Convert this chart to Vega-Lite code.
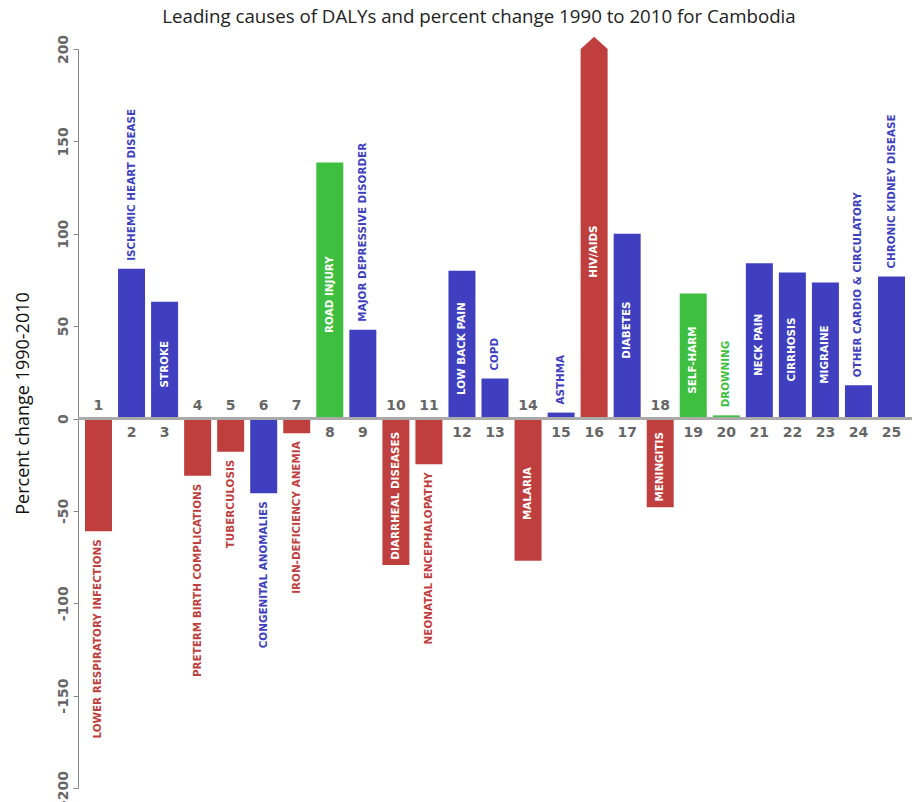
{
  "$schema": "https://vega.github.io/schema/vega-lite/v6.json",
  "width": 834,
  "height": 739,
  "autosize": {"type": "none"},
  "padding": {"left": 78, "top": 49, "right": 4, "bottom": 14},
  "title": {
    "text": "Leading causes of DALYs and percent change 1990 to 2010 for Cambodia",
    "font": "Open Sans",
    "fontSize": 18.7,
    "fontWeight": "normal",
    "color": "#222222",
    "anchor": "middle",
    "frame": "group",
    "dx": -16,
    "offset": 8
  },
  "config": {"view": {"stroke": null}, "font": "DejaVu Sans"},
  "data": {
    "values": [
      {"rank": 1, "cause": "LOWER RESPIRATORY INFECTIONS", "value": -61, "group": "Communicable"},
      {"rank": 2, "cause": "ISCHEMIC HEART DISEASE", "value": 81, "group": "NCD"},
      {"rank": 3, "cause": "STROKE", "value": 63.2, "group": "NCD"},
      {"rank": 4, "cause": "PRETERM BIRTH COMPLICATIONS", "value": -31, "group": "Communicable"},
      {"rank": 5, "cause": "TUBERCULOSIS", "value": -18, "group": "Communicable"},
      {"rank": 6, "cause": "CONGENITAL ANOMALIES", "value": -40.5, "group": "NCD"},
      {"rank": 7, "cause": "IRON-DEFICIENCY ANEMIA", "value": -8, "group": "Communicable"},
      {"rank": 8, "cause": "ROAD INJURY", "value": 138.5, "group": "Injuries"},
      {"rank": 9, "cause": "MAJOR DEPRESSIVE DISORDER", "value": 48.1, "group": "NCD"},
      {"rank": 10, "cause": "DIARRHEAL DISEASES", "value": -79.3, "group": "Communicable"},
      {"rank": 11, "cause": "NEONATAL ENCEPHALOPATHY", "value": -24.7, "group": "Communicable"},
      {"rank": 12, "cause": "LOW BACK PAIN", "value": 80, "group": "NCD"},
      {"rank": 13, "cause": "COPD", "value": 21.6, "group": "NCD"},
      {"rank": 14, "cause": "MALARIA", "value": -77, "group": "Communicable"},
      {"rank": 15, "cause": "ASTHMA", "value": 3.2, "group": "NCD"},
      {"rank": 16, "cause": "HIV/AIDS", "value": 200, "group": "Communicable"},
      {"rank": 17, "cause": "DIABETES", "value": 100, "group": "NCD"},
      {"rank": 18, "cause": "MENINGITIS", "value": -48, "group": "Communicable"},
      {"rank": 19, "cause": "SELF-HARM", "value": 67.6, "group": "Injuries"},
      {"rank": 20, "cause": "DROWNING", "value": 1.7, "group": "Injuries"},
      {"rank": 21, "cause": "NECK PAIN", "value": 84, "group": "NCD"},
      {"rank": 22, "cause": "CIRRHOSIS", "value": 79, "group": "NCD"},
      {"rank": 23, "cause": "MIGRAINE", "value": 73.6, "group": "NCD"},
      {"rank": 24, "cause": "OTHER CARDIO & CIRCULATORY", "value": 18, "group": "NCD"},
      {"rank": 25, "cause": "CHRONIC KIDNEY DISEASE", "value": 76.8, "group": "NCD"}
    ]
  },
  "transform": [
    {"calculate": "abs(datum.value) >= 25 && length(datum.cause) * 7 + 10 < abs(datum.value) * 1.848", "as": "inside"},
    {"calculate": "min(datum.value, 185) / 2", "as": "mid"}
  ],
  "layer": [
    {
      "mark": {"type": "bar"},
      "encoding": {
        "x": {"field": "rank", "type": "ordinal", "scale": {"range": [7, 827], "paddingInner": 0.183, "paddingOuter": 0}, "axis": null},
        "y": {
          "field": "value",
          "type": "quantitative",
          "scale": {"domain": [-200, 200], "nice": false},
          "axis": {
            "title": "Percent change 1990-2010",
            "values": [-200, -150, -100, -50, 0, 50, 100, 150, 200],
            "labelExpr": "toString(datum.value)",
            "grid": false,
            "labelAngle": -90,
            "labelAlign": "center",
            "labelBaseline": "bottom",
            "labelPadding": 3,
            "labelFont": "DejaVu Sans",
            "labelFontWeight": "bold",
            "labelFontSize": 14,
            "labelColor": "#666666",
            "labelOverlap": false,
            "labelBound": false,
            "tickColor": "#888888",
            "tickSize": 5,
            "domainColor": "#888888",
            "titleFont": "Open Sans",
            "titleFontSize": 18,
            "titleFontWeight": "normal",
            "titleColor": "#111111",
            "titleAngle": -90,
            "titleAlign": "center",
            "titleBaseline": "middle",
            "titleX": -55,
            "titleY": 354
          }
        },
        "color": {
          "field": "group",
          "type": "nominal",
          "scale": {"domain": ["Communicable", "NCD", "Injuries"], "range": ["#bf3f3f", "#3f3fbf", "#3fbf3f"]},
          "legend": null
        }
      }
    },
    {
      "transform": [{"filter": "datum.value >= 200"}],
      "mark": {"type": "point", "shape": "M-1,0L1,0L0,-0.9Z", "filled": true, "size": 729, "opacity": 1, "strokeWidth": 0},
      "encoding": {
        "x": {"field": "rank", "type": "ordinal"},
        "y": {"field": "value", "type": "quantitative"},
        "color": {"field": "group", "type": "nominal"}
      }
    },
    {
      "mark": {"type": "rule", "color": "#aaaaaa", "strokeWidth": 2},
      "encoding": {"y": {"datum": 0, "type": "quantitative"}}
    },
    {
      "transform": [{"filter": "datum.value >= 0"}],
      "mark": {"type": "text", "font": "DejaVu Sans", "fontWeight": "bold", "fontSize": 14, "color": "#666666", "baseline": "middle", "dy": 14},
      "encoding": {
        "x": {"field": "rank", "type": "ordinal"},
        "y": {"datum": 0, "type": "quantitative"},
        "text": {"field": "rank", "type": "ordinal"}
      }
    },
    {
      "transform": [{"filter": "datum.value < 0"}],
      "mark": {"type": "text", "font": "DejaVu Sans", "fontWeight": "bold", "fontSize": 14, "color": "#666666", "baseline": "middle", "dy": -13},
      "encoding": {
        "x": {"field": "rank", "type": "ordinal"},
        "y": {"datum": 0, "type": "quantitative"},
        "text": {"field": "rank", "type": "ordinal"}
      }
    },
    {
      "transform": [{"filter": "datum.inside"}],
      "mark": {"type": "text", "font": "DejaVu Sans", "fontWeight": "bold", "fontSize": 10.4, "color": "#ffffff", "angle": -90, "align": "center", "baseline": "middle", "dx": -4},
      "encoding": {
        "x": {"field": "rank", "type": "ordinal"},
        "y": {"field": "mid", "type": "quantitative"},
        "text": {"field": "cause", "type": "nominal"}
      }
    },
    {
      "transform": [{"filter": "!datum.inside && datum.value >= 0"}],
      "mark": {"type": "text", "font": "DejaVu Sans", "fontWeight": "bold", "fontSize": 10.4, "angle": -90, "align": "left", "baseline": "middle", "dx": 8},
      "encoding": {
        "x": {"field": "rank", "type": "ordinal"},
        "y": {"field": "value", "type": "quantitative"},
        "text": {"field": "cause", "type": "nominal"},
        "color": {"field": "group", "type": "nominal"}
      }
    },
    {
      "transform": [{"filter": "!datum.inside && datum.value < 0"}],
      "mark": {"type": "text", "font": "DejaVu Sans", "fontWeight": "bold", "fontSize": 10.4, "angle": -90, "align": "right", "baseline": "middle", "dx": -8},
      "encoding": {
        "x": {"field": "rank", "type": "ordinal"},
        "y": {"field": "value", "type": "quantitative"},
        "text": {"field": "cause", "type": "nominal"},
        "color": {"field": "group", "type": "nominal"}
      }
    }
  ]
}
